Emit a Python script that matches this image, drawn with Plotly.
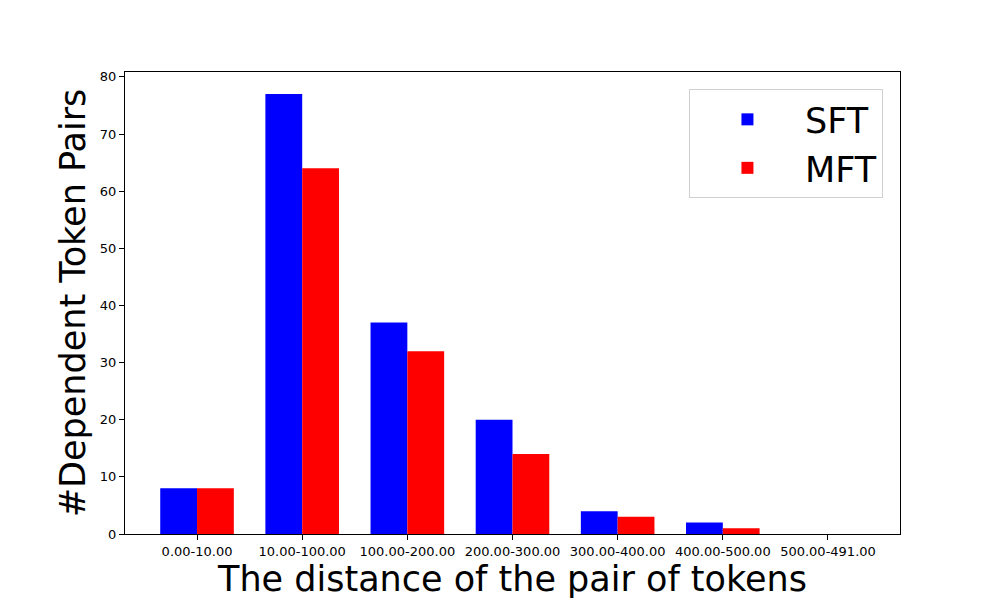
import plotly.graph_objects as go

categories = ["0.00-10.00", "10.00-100.00", "100.00-200.00", "200.00-300.00",
              "300.00-400.00", "400.00-500.00", "500.00-491.00"]
sft = [8, 77, 37, 20, 4, 2, 0]
mft = [8, 64, 32, 14, 3, 1, 0]
x = list(range(len(categories)))
width = 0.35

fig = go.Figure()
fig.add_trace(go.Bar(x=[i - width / 2 for i in x], y=sft, width=width, name="SFT",
                     marker=dict(color="#0000ff", line=dict(width=0))))
fig.add_trace(go.Bar(x=[i + width / 2 for i in x], y=mft, width=width, name="MFT",
                     marker=dict(color="#ff0000", line=dict(width=0))))

fig.update_layout(
    width=1000, height=600,
    margin=dict(l=117, r=108, t=64, b=74, autoexpand=False),
    paper_bgcolor="white", plot_bgcolor="white",
    barmode="overlay",
    font=dict(family="DejaVu Sans", color="black"),
    showlegend=True,
    legend=dict(x=0.978, y=0.963, xanchor="right", yanchor="top",
                bordercolor="#d0d0d0", borderwidth=1, bgcolor="rgba(255,255,255,0.8)",
                font=dict(size=35), itemwidth=105, tracegroupgap=8),
    xaxis=dict(range=[-0.685, 6.685], tickmode="array", tickvals=x, ticktext=categories,
               tickfont=dict(size=13), showline=True, linecolor="black", linewidth=1,
               mirror=True, ticks="outside", ticklen=5, tickcolor="black", showgrid=False,
               zeroline=False, automargin=True,
               title=dict(text="The distance of the pair of tokens", font=dict(size=35), standoff=0)),
    yaxis=dict(range=[0, 80.85], tickmode="array", tickvals=[0, 10, 20, 30, 40, 50, 60, 70, 80],
               tickfont=dict(size=13), showline=True, linecolor="black", linewidth=1,
               mirror=True, ticks="outside", ticklen=5, tickcolor="black", showgrid=False,
               zeroline=False, automargin=True,
               title=dict(text="#Dependent Token Pairs", font=dict(size=35), standoff=3)),
)

fig.write_html("out.html")
